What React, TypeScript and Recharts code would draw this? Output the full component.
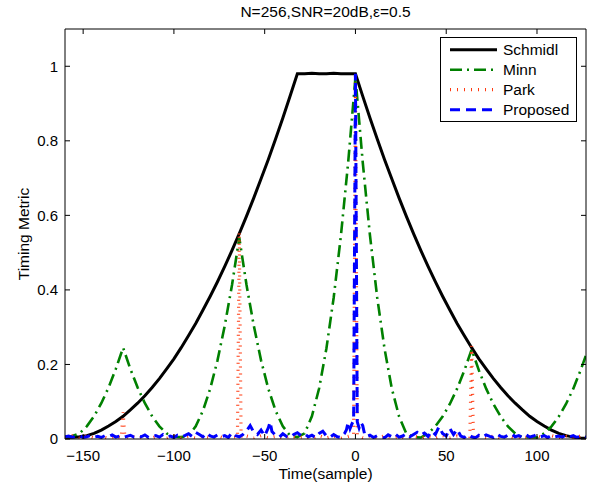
import React from 'react';
import { LineChart, Line, XAxis, YAxis } from 'recharts';

// axis ticks
const timeTicks = [-150, -100, -50, 0, 50, 100];
const metricTicks = [0, 0.2, 0.4, 0.6, 0.8, 1];

// Schmidl and Minn share a 4-sample grid
const curveTime = [
  -160, -156, -152, -148, -144, -140, -136, -132,
  -128, -124, -120, -116, -112, -108, -104, -100,
  -96, -92, -88, -84, -80, -76, -72, -68,
  -64, -60, -56, -52, -48, -44, -40, -36,
  -32, -28, -24, -20, -16, -12, -8, -4,
  0, 4, 8, 12, 16, 20, 24, 28,
  32, 36, 40, 44, 48, 52, 56, 60,
  64, 68, 72, 76, 80, 84, 88, 92,
  96, 100, 104, 108, 112, 116, 120, 124,
  127,
];

const schmidlMetric = [
  0.004, 0.005, 0.006, 0.009, 0.015, 0.024, 0.035, 0.047,
  0.061, 0.078, 0.096, 0.116, 0.138, 0.162, 0.188, 0.215,
  0.245, 0.277, 0.310, 0.346, 0.383, 0.422, 0.463, 0.506,
  0.551, 0.598, 0.647, 0.698, 0.750, 0.805, 0.861, 0.920,
  0.980, 0.980, 0.981, 0.980, 0.980, 0.981, 0.980, 0.980,
  0.980, 0.920, 0.861, 0.805, 0.750, 0.698, 0.647, 0.598,
  0.551, 0.506, 0.463, 0.422, 0.383, 0.346, 0.310, 0.277,
  0.245, 0.215, 0.188, 0.162, 0.138, 0.116, 0.096, 0.078,
  0.061, 0.047, 0.035, 0.024, 0.015, 0.009, 0.005, 0.003,
  0.002,
];

const minnMetric = [
  0.005, 0.008, 0.015, 0.034, 0.061, 0.096, 0.138, 0.188,
  0.245, 0.188, 0.138, 0.096, 0.061, 0.034, 0.015, 0.006,
  0.005, 0.009, 0.034, 0.076, 0.135, 0.211, 0.304, 0.413,
  0.540, 0.413, 0.304, 0.211, 0.135, 0.076, 0.034, 0.009,
  0.005, 0.015, 0.061, 0.136, 0.243, 0.379, 0.546, 0.743,
  0.970, 0.743, 0.546, 0.379, 0.243, 0.136, 0.061, 0.015,
  0.005, 0.004, 0.015, 0.034, 0.060, 0.094, 0.135, 0.184,
  0.240, 0.184, 0.135, 0.094, 0.060, 0.034, 0.015, 0.004,
  0.005, 0.004, 0.015, 0.034, 0.060, 0.094, 0.135, 0.184,
  0.225,
];

const parkTime = [
  -160, -156, -152, -148, -144, -140, -136, -132,
  -129, -128, -127,
  -124, -120, -116, -112, -108, -104, -100, -96, -92, -88, -84, -80, -76, -72, -68,
  -65, -64, -63,
  -60, -56, -52, -48, -44, -40, -36, -32, -28, -24, -20, -16, -12, -8, -4,
  -1, 0, 1,
  4, 8, 12, 16, 20, 24, 28, 32, 36, 40, 44, 48, 52, 56, 60,
  63, 64, 65,
  68, 72, 76, 80, 84, 88, 92, 96, 100, 104, 108, 112, 116, 120, 124,
  127,
];

const parkMetric = [
  0.003, 0.008, 0.002, 0.009, 0.003, 0.007, 0.002, 0.008,
  0.003, 0.072, 0.003,
  0.008, 0.002, 0.007, 0.003, 0.009, 0.002, 0.008, 0.003, 0.007, 0.002, 0.009, 0.003, 0.008, 0.002, 0.007,
  0.004, 0.555, 0.004,
  0.008, 0.002, 0.009, 0.003, 0.007, 0.002, 0.008, 0.003, 0.007, 0.002, 0.009, 0.003, 0.008, 0.002, 0.007,
  0.012, 0.982, 0.012,
  0.003, 0.008, 0.002, 0.009, 0.003, 0.007, 0.002, 0.008, 0.003, 0.007, 0.002, 0.009, 0.003, 0.008, 0.002,
  0.003, 0.250, 0.003,
  0.007, 0.002, 0.008, 0.003, 0.009, 0.002, 0.007, 0.003, 0.008, 0.002, 0.009, 0.003, 0.007, 0.002, 0.008,
  0.003,
];

const proposedTime = [
  -160, -158, -156, -154, -152, -150, -148, -146,
  -144, -142, -140, -138, -136, -134, -132, -130,
  -128, -126, -124, -122, -120, -118, -116, -114,
  -112, -110, -108, -106, -104, -102, -100, -98,
  -96, -94, -92, -90, -88, -86, -84, -82,
  -80, -78, -76, -74, -72, -70, -68, -66,
  -64, -62, -60, -58, -56, -54, -52, -50,
  -48, -47, -46, -44, -42, -40, -38, -36, -34, -32, -30, -28,
  -26, -24, -22, -20, -18, -16, -14, -12, -10, -8, -6,
  -5, -4, -3, -2, -1, 0, 1, 2, 3, 4, 5,
  6, 8, 10, 12, 14, 16, 18, 20,
  22, 24, 26, 28, 30, 32, 34, 36,
  38, 40, 42, 44, 46, 48, 50, 52,
  54, 56, 58, 60, 62, 64, 66, 68,
  70, 72, 74, 76, 78, 80, 82, 84,
  86, 88, 90, 92, 94, 96, 98, 100,
  102, 104, 106, 108, 110, 112, 114, 116,
  118, 120, 122, 124, 126,
  127,
];

const proposedMetric = [
  0.006, 0.008, 0.005, 0.007, 0.009, 0.004, 0.006, 0.010,
  0.005, 0.007, 0.004, 0.009, 0.006, 0.011, 0.005, 0.008,
  0.004, 0.007, 0.010, 0.005, 0.008, 0.006, 0.011, 0.004,
  0.007, 0.009, 0.005, 0.012, 0.006, 0.008, 0.004, 0.010,
  0.006, 0.009, 0.014, 0.007, 0.018, 0.012, 0.006, 0.016,
  0.008, 0.005, 0.011, 0.006, 0.009, 0.004, 0.017, 0.009,
  0.006, 0.012, 0.022, 0.036, 0.018, 0.012, 0.024, 0.008,
  0.030, 0.046, 0.020, 0.010, 0.005, 0.014, 0.007, 0.004, 0.012, 0.017, 0.009, 0.014,
  0.006, 0.010, 0.004, 0.015, 0.021, 0.008, 0.005, 0.012, 0.006, 0.004, 0.015,
  0.024, 0.045, 0.028, 0.040, 0.050, 0.980, 0.046, 0.030, 0.044, 0.036, 0.014,
  0.006, 0.010, 0.004, 0.009, 0.005, 0.003, 0.011, 0.006,
  0.013, 0.005, 0.008, 0.014, 0.006, 0.012, 0.018, 0.010,
  0.016, 0.007, 0.021, 0.012, 0.033, 0.015, 0.008, 0.028,
  0.012, 0.026, 0.008, 0.004, 0.012, 0.006, 0.003, 0.010,
  0.005, 0.011, 0.007, 0.004, 0.013, 0.007, 0.005, 0.010,
  0.014, 0.006, 0.009, 0.004, 0.011, 0.005, 0.008, 0.012,
  0.006, 0.009, 0.004, 0.010, 0.006, 0.008, 0.005, 0.011,
  0.006, 0.009, 0.004, 0.008, 0.006,
  0.005,
];

const seriesNames = ['Schmidl', 'Minn', 'Park', 'Proposed'];

const pairUp = (time: number[], metric: number[]) =>
  time.map((t, i) => ({ t, v: metric[i] }));

const FONT = '"Liberation Sans", Arial, Helvetica, sans-serif';

const lineStyles = [
  { color: '#000000', width: 3, dash: undefined as string | undefined },
  { color: '#008000', width: 2.6, dash: '12 5 2 5' },
  { color: '#ff3a10', width: 3.2, dash: '1 6' },
  { color: '#0000ff', width: 3, dash: '10 6' },
];

const seriesData = [
  pairUp(curveTime, schmidlMetric),
  pairUp(curveTime, minnMetric),
  pairUp(parkTime, parkMetric),
  pairUp(proposedTime, proposedMetric),
];

const fmt = (v: number) => String(v).replace('-', '\u2212');
const blank = () => '';

const tickStyle = { fill: '#000', fontSize: 15, fontFamily: FONT };

const Legend = () => (
  <svg
    width={137}
    height={85}
    style={{ position: 'absolute', left: 440, top: 37 }}
  >
    <rect x={0.5} y={0.5} width={136} height={84} fill="#fff" stroke="#000" strokeWidth={1} />
    {seriesNames.map((name, i) => {
      const s = lineStyles[i];
      const y = 12.7 + i * 20;
      return (
        <g key={name}>
          <line
            x1={10}
            x2={57}
            y1={y}
            y2={y}
            stroke={s.color}
            strokeWidth={s.width}
            strokeDasharray={s.dash}
          />
          <text x={63} y={y + 5.3} fontSize={15.5} fontFamily={FONT} fill="#000">
            {name}
          </text>
        </g>
      );
    })}
  </svg>
);

export default function App() {
  return (
    <div style={{ position: 'absolute', left: 0, top: 0, width: 596, height: 485, background: '#fff' }}>
      <LineChart width={596} height={485} margin={{ top: 28, right: 9, bottom: 0, left: 0 }}>
        <XAxis
          dataKey="t"
          type="number"
          domain={[-160, 127]}
          allowDataOverflow
          ticks={timeTicks}
          interval={0}
          height={46}
          tickSize={-5}
          tickMargin={16}
          tickFormatter={fmt}
          tick={tickStyle}
          stroke="#000"
        />
        <XAxis
          xAxisId="top"
          orientation="top"
          dataKey="t"
          type="number"
          domain={[-160, 127]}
          allowDataOverflow
          ticks={timeTicks}
          interval={0}
          height={1}
          tickSize={-5}
          tickFormatter={blank}
          stroke="#000"
        />
        <YAxis
          type="number"
          domain={[0, 1.1]}
          allowDataOverflow
          ticks={metricTicks}
          interval={0}
          width={65}
          tickSize={-5}
          tickMargin={12}
          tickFormatter={fmt}
          tick={tickStyle}
          stroke="#000"
        />
        <YAxis
          yAxisId="right"
          orientation="right"
          type="number"
          domain={[0, 1.1]}
          allowDataOverflow
          ticks={metricTicks}
          interval={0}
          width={1}
          tickSize={-5}
          tickFormatter={blank}
          stroke="#000"
        />
        {seriesNames.map((name, i) => (
          <Line
            key={name}
            name={name}
            data={seriesData[i]}
            dataKey="v"
            type="linear"
            stroke={lineStyles[i].color}
            strokeWidth={lineStyles[i].width}
            strokeDasharray={lineStyles[i].dash}
            dot={false}
            activeDot={false}
            isAnimationActive={false}
          />
        ))}
      </LineChart>

      <div
        style={{
          position: 'absolute', left: 65, width: 521, top: 4, textAlign: 'center',
          fontFamily: FONT, fontSize: 15.5, lineHeight: 1, color: '#000',
        }}
      >
        N=256,SNR=20dB,ε=0.5
      </div>
      <div
        style={{
          position: 'absolute', left: 65, width: 521, top: 466, textAlign: 'center',
          fontFamily: FONT, fontSize: 15.5, lineHeight: 1, color: '#000',
        }}
      >
        Time(sample)
      </div>
      <div
        style={{
          position: 'absolute', left: 23.5, top: 234, transform: 'translate(-50%, -50%) rotate(-90deg)',
          whiteSpace: 'nowrap', fontFamily: FONT, fontSize: 15.5, lineHeight: 1, color: '#000',
        }}
      >
        Timing Metric
      </div>
      <Legend />
    </div>
  );
}
